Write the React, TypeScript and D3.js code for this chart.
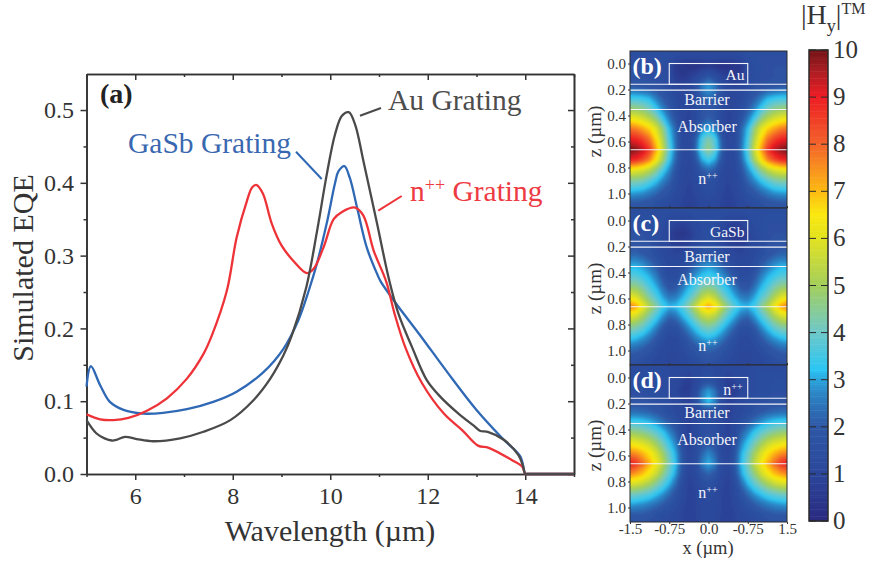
import { useEffect, useRef } from "react";
import * as d3 from "d3";

const FONT = "'Liberation Serif', 'Times New Roman', serif";

// EQE curves as [wavelength, eqe]
const auCurve: [number, number][] = [
  [5, 0.074], [5.2, 0.056], [5.37, 0.049], [5.52, 0.046], [5.62, 0.047], [5.79, 0.051], [6.03, 0.048], [6.37, 0.045],
  [6.92, 0.049], [7.4, 0.058], [7.95, 0.074], [8.42, 0.101], [8.77, 0.131], [9.04, 0.163], [9.21, 0.19], [9.51, 0.257],
  [9.73, 0.334], [9.93, 0.412], [10.1, 0.467], [10.24, 0.492], [10.38, 0.497], [10.51, 0.48], [10.68, 0.43], [10.96, 0.344],
  [11.21, 0.266], [11.4, 0.22], [11.68, 0.174], [11.98, 0.129], [12.26, 0.106], [12.63, 0.083], [12.95, 0.066], [13.08, 0.059],
  [13.23, 0.058], [13.56, 0.047], [13.86, 0.026], [13.95, 0.012], [14, 0], [14.03, 0], [14.5, 0], [15, 0],
];
const gasbCurve: [number, number][] = [
  [5, 0.12], [5.09, 0.148], [5.28, 0.122], [5.48, 0.099], [5.76, 0.088], [6.16, 0.083], [6.57, 0.084], [7.06, 0.089],
  [7.6, 0.099], [8.08, 0.113], [8.63, 0.14], [9.04, 0.172], [9.35, 0.212], [9.55, 0.25], [9.73, 0.29], [9.93, 0.345],
  [10.1, 0.4], [10.17, 0.416], [10.29, 0.423], [10.4, 0.407], [10.55, 0.366], [10.75, 0.311], [10.96, 0.275], [11.03, 0.265],
  [11.33, 0.236], [11.85, 0.19], [12.4, 0.14], [13, 0.088], [13.56, 0.047], [13.9, 0.024], [14, 0], [14.03, 0], [14.5, 0], [15, 0],
];
const npCurve: [number, number][] = [
  [5, 0.082], [5.28, 0.075], [5.55, 0.074], [5.86, 0.077], [6.24, 0.087], [6.65, 0.104], [7.06, 0.131], [7.4, 0.165],
  [7.57, 0.19], [7.88, 0.252], [8.08, 0.325], [8.29, 0.375], [8.4, 0.394], [8.49, 0.397], [8.62, 0.385], [8.8, 0.344],
  [9, 0.314], [9.24, 0.293], [9.52, 0.276], [9.66, 0.282], [9.86, 0.311], [10.07, 0.35], [10.24, 0.36], [10.51, 0.366],
  [10.68, 0.355], [10.89, 0.307], [11.15, 0.264], [11.32, 0.22], [11.54, 0.174], [11.88, 0.125], [12.33, 0.083], [12.71, 0.06],
  [13.03, 0.039], [13.25, 0.036], [13.73, 0.019], [13.94, 0.01], [14, 0], [14.03, 0], [14.5, 0], [15, 0],
];

const xMajor = [6, 8, 10, 12, 14];
const xMinor = [5, 7, 9, 11, 13, 15];
const yMajor = [0, 0.1, 0.2, 0.3, 0.4, 0.5];
const yMinor = [0.05, 0.15, 0.25, 0.35, 0.45];

// field maps: rows are z depths, columns run from x=-1.5 to x=0, the rest is mirrored
const zRows = [-0.14, -0.06, 0.02, 0.1, 0.18, 0.26, 0.34, 0.42, 0.5, 0.58, 0.66, 0.74, 0.82, 0.9, 0.98, 1.06, 1.14];
const xCols = [-1.5, -1.375, -1.25, -1.125, -1, -0.875, -0.75, -0.625, -0.5, -0.375, -0.25, -0.125, 0];

const fieldB = [
  [1.4, 1.4, 1.4, 1.4, 1.4, 1.4, 1.3, 1.2, 1.2, 1.2, 1.2, 1.2, 1.2],
  [1.5, 1.5, 1.5, 1.5, 1.5, 1.5, 1.4, 1.3, 1.2, 1.2, 1.2, 1.2, 1.2],
  [1.6, 1.6, 1.6, 1.5, 1.5, 1.4, 1.2, 0.5, 0.4, 0.3, 0.3, 0.4, 0.5],
  [1.6, 1.6, 1.6, 1.5, 1.5, 1.4, 1.2, 0.7, 0.5, 0.7, 1.0, 1.5, 1.9],
  [2.1, 2.0, 1.9, 1.8, 1.7, 1.6, 1.3, 1.0, 0.9, 1.0, 1.7, 2.6, 3.0],
  [3.3, 3.3, 3.2, 3.0, 2.5, 2.0, 1.6, 1.2, 0.9, 1.0, 1.5, 2.1, 2.4],
  [4.7, 4.6, 4.4, 4.0, 3.3, 2.6, 2.0, 1.4, 1.0, 0.9, 1.3, 1.8, 2.0],
  [6.2, 6.0, 5.7, 5.2, 4.5, 3.4, 2.5, 1.7, 1.0, 0.8, 1.2, 1.8, 2.1],
  [7.8, 7.6, 7.2, 6.7, 5.9, 4.7, 3.2, 2.2, 1.2, 0.9, 1.5, 2.6, 3.0],
  [9.0, 8.8, 8.4, 7.8, 6.6, 5.2, 3.5, 2.3, 1.2, 1.0, 2.0, 3.6, 4.3],
  [10, 9.8, 9.4, 8.6, 7.2, 5.6, 3.8, 2.4, 1.3, 1.1, 2.2, 3.9, 4.7],
  [9.0, 8.8, 8.3, 7.6, 6.4, 5.0, 3.4, 2.2, 1.2, 1.0, 1.8, 3.0, 3.5],
  [6.2, 6.0, 5.8, 5.3, 4.6, 3.6, 2.7, 1.8, 1.1, 0.9, 1.3, 2.0, 2.3],
  [4.4, 4.4, 4.2, 3.8, 3.3, 2.7, 2.2, 1.5, 1.0, 0.9, 1.1, 1.5, 1.7],
  [3.2, 3.1, 3.0, 2.7, 2.4, 2.0, 1.7, 1.3, 1.0, 0.8, 1.0, 1.3, 1.4],
  [2.1, 2.1, 2.0, 1.9, 1.7, 1.5, 1.3, 1.1, 0.9, 0.8, 0.9, 1.1, 1.2],
  [1.6, 1.6, 1.5, 1.5, 1.3, 1.2, 1.1, 1.0, 0.8, 0.7, 0.8, 1.0, 1.1],
];
const fieldC = [
  [1.4, 1.4, 1.4, 1.4, 1.4, 1.4, 1.3, 1.3, 1.3, 1.3, 1.3, 1.3, 1.3],
  [1.4, 1.4, 1.4, 1.4, 1.4, 1.4, 1.3, 1.3, 1.3, 1.3, 1.4, 1.4, 1.4],
  [1.5, 1.5, 1.5, 1.5, 1.4, 1.3, 1.1, 0.9, 0.8, 0.9, 1.1, 1.3, 1.4],
  [1.6, 1.6, 1.6, 1.5, 1.4, 1.2, 0.8, 0.5, 0.4, 0.6, 1.0, 1.3, 1.4],
  [1.8, 1.8, 1.7, 1.6, 1.3, 1.1, 0.9, 0.7, 0.7, 0.8, 1.1, 1.4, 1.5],
  [2.2, 2.2, 2.0, 1.8, 1.5, 1.2, 1.0, 0.9, 1.0, 1.2, 1.5, 1.8, 1.9],
  [3.0, 3.0, 2.8, 2.4, 2.0, 1.5, 1.1, 1.1, 1.3, 1.7, 2.2, 2.6, 2.8],
  [3.7, 3.6, 3.3, 3.0, 2.5, 1.8, 1.3, 1.3, 1.8, 2.3, 2.8, 3.2, 3.4],
  [4.6, 4.5, 4.1, 3.5, 3.0, 2.3, 1.7, 1.8, 2.4, 3.0, 3.5, 4.1, 4.3],
  [6.0, 5.7, 5.0, 4.2, 3.6, 2.9, 2.4, 2.5, 3.0, 3.6, 4.3, 5.2, 5.6],
  [7.7, 7.2, 6.2, 5.2, 4.4, 3.5, 3.1, 3.2, 3.7, 4.5, 5.5, 6.6, 7.3],
  [5.9, 5.6, 5.0, 4.2, 3.5, 2.8, 2.2, 2.4, 3.0, 3.6, 4.4, 5.2, 5.5],
  [4.5, 4.3, 3.9, 3.3, 2.7, 2.0, 1.5, 1.6, 2.2, 2.8, 3.4, 4.0, 4.3],
  [3.4, 3.2, 2.9, 2.5, 2.0, 1.5, 1.2, 1.2, 1.6, 2.1, 2.6, 3.0, 3.2],
  [2.4, 2.3, 2.1, 1.8, 1.5, 1.2, 1.0, 1.1, 1.3, 1.6, 1.9, 2.2, 2.3],
  [1.8, 1.7, 1.6, 1.4, 1.2, 1.1, 0.9, 0.9, 1.1, 1.3, 1.5, 1.7, 1.8],
  [1.4, 1.4, 1.3, 1.2, 1.1, 1.0, 0.9, 0.9, 1.0, 1.1, 1.2, 1.3, 1.4],
];
const fieldD = [
  [1.2, 1.2, 1.2, 1.2, 1.2, 1.2, 1.2, 1.1, 1.1, 1.1, 1.1, 1.2, 1.2],
  [1.3, 1.3, 1.3, 1.3, 1.3, 1.3, 1.2, 1.1, 1.1, 1.0, 1.1, 1.2, 1.3],
  [1.4, 1.4, 1.4, 1.4, 1.3, 1.3, 1.2, 1.1, 0.9, 0.7, 1.0, 1.4, 1.6],
  [1.5, 1.5, 1.5, 1.4, 1.4, 1.3, 1.2, 1.0, 0.7, 0.7, 1.3, 2.4, 2.9],
  [1.7, 1.7, 1.7, 1.6, 1.5, 1.4, 1.3, 1.1, 0.9, 0.8, 1.5, 2.7, 3.3],
  [2.3, 2.3, 2.2, 2.1, 1.9, 1.7, 1.4, 1.2, 1.0, 0.8, 1.2, 1.6, 1.8],
  [3.4, 3.4, 3.3, 3.1, 2.8, 2.4, 2.0, 1.6, 1.1, 0.8, 1.1, 1.4, 1.5],
  [4.8, 4.7, 4.5, 4.2, 3.8, 3.3, 2.7, 2.1, 1.2, 0.8, 1.1, 1.5, 1.6],
  [6.2, 6.0, 5.8, 5.4, 4.8, 4.1, 3.3, 2.6, 1.5, 0.8, 1.2, 1.7, 1.9],
  [7.6, 7.4, 7.0, 6.5, 5.8, 4.9, 3.9, 3.0, 1.8, 0.9, 1.3, 2.2, 2.7],
  [9.0, 8.6, 7.9, 7.1, 6.3, 5.4, 4.2, 3.2, 1.9, 1.0, 1.4, 2.6, 3.1],
  [7.6, 7.3, 6.9, 6.3, 5.6, 4.7, 3.8, 2.9, 1.7, 0.9, 1.2, 1.9, 2.2],
  [5.8, 5.7, 5.4, 5.0, 4.4, 3.8, 3.1, 2.3, 1.4, 0.8, 1.0, 1.4, 1.6],
  [4.1, 4.0, 3.8, 3.6, 3.2, 2.8, 2.3, 1.7, 1.2, 0.8, 0.9, 1.2, 1.3],
  [2.9, 2.8, 2.7, 2.5, 2.3, 2.0, 1.7, 1.4, 1.0, 0.8, 0.9, 1.1, 1.2],
  [1.9, 1.9, 1.9, 1.8, 1.6, 1.4, 1.3, 1.1, 0.9, 0.8, 0.9, 1.0, 1.1],
  [1.5, 1.5, 1.5, 1.4, 1.3, 1.2, 1.1, 1.0, 0.9, 0.8, 0.8, 1.0, 1.0],
];

const layerLines = [0.16, 0.205, 0.354, 0.664];
const zTicks = [0, 0.2, 0.4, 0.6, 0.8, 1];
const xFieldTicks = [-1.5, -0.75, 0, 0.75, 1.5];
const xFieldLabels = ["-1.5", "-0.75", "0.0", "-0.75", "1.5"];
const barTicks = [0, 1, 2, 3, 4, 5, 6, 7, 8, 9, 10];
const colorStops = [0, 1, 2, 2.7, 3, 3.2, 4, 5, 5.5, 6, 6.5, 7, 8, 9, 9.5, 10];
const colorValues = [
  "#2a2a80", "#2b479b", "#2e58a6", "#2c86c6", "#2ba6dd", "#2bc6f4", "#6fc8c8", "#a4cf5a",
  "#c5d93e", "#e3e31f", "#fbe80f", "#fdb913", "#f3622a", "#ed1c24", "#b01e24", "#701215",
];

const colorScale = d3.scaleLinear<string>().domain(colorStops).range(colorValues).clamp(true);

export default function App() {
  const svgRef = useRef<SVGSVGElement | null>(null);

  useEffect(() => {
    if (!svgRef.current) return;
    const svg = d3.select(svgRef.current);
    svg.selectAll("*").remove();
    svg.attr("font-family", FONT);

    const ink = "#333333";

    const styleAxis = (g: any, size: number) => {
      g.attr("font-family", FONT).attr("font-size", size);
      g.selectAll("path.domain").attr("stroke", ink).attr("stroke-width", 1.6);
      g.selectAll("line").attr("stroke", ink).attr("stroke-width", 1.5);
      g.selectAll("text").attr("fill", ink);
    };

    // main plot
    const x = d3.scaleLinear().domain([5, 15]).range([86.5, 574]);
    const y = d3.scaleLinear().domain([0, 0.5495]).range([474, 74]);
    const noLabel = () => "";

    const frame: [string, any][] = [
      ["translate(0,474)", d3.axisBottom(x).tickValues(xMinor).tickSize(3).tickSizeOuter(0).tickFormat(noLabel)],
      ["translate(0,474)", d3.axisBottom(x).tickValues(xMajor).tickSize(6).tickSizeOuter(0).tickPadding(7)],
      ["translate(86.5,0)", d3.axisLeft(y).tickValues(yMinor).tickSize(3).tickSizeOuter(0).tickFormat(noLabel)],
      ["translate(86.5,0)", d3.axisLeft(y).tickValues(yMajor).tickSize(6).tickSizeOuter(0).tickPadding(6.5).tickFormat(d3.format(".1f"))],
      // mirrored frame, ticks pointing inward and no labels
      ["translate(0,74)", d3.axisTop(x).tickValues(xMinor).tickSize(-3).tickSizeOuter(0).tickFormat(noLabel)],
      ["translate(0,74)", d3.axisTop(x).tickValues(xMajor).tickSize(-6).tickSizeOuter(0).tickFormat(noLabel)],
      ["translate(574,0)", d3.axisRight(y).tickValues(yMinor).tickSize(-3).tickSizeOuter(0).tickFormat(noLabel)],
      ["translate(574,0)", d3.axisRight(y).tickValues(yMajor).tickSize(-6).tickSizeOuter(0).tickFormat(noLabel)],
    ];
    frame.forEach(([transform, axis]) => {
      styleAxis(svg.append("g").attr("transform", transform).call(axis), 24);
    });

    const line = d3.line<[number, number]>().x((d) => x(d[0])).y((d) => y(d[1])).curve(d3.curveCatmullRom.alpha(0.5));
    const curves: [[number, number][], string][] = [
      [gasbCurve, "#2f68b4"],
      [npCurve, "#ee3338"],
      [auCurve, "#4a4a4a"],
    ];
    curves.forEach(([data, color]) => {
      svg.append("path").attr("d", line(data)).attr("fill", "none").attr("stroke", color).attr("stroke-width", 2.3);
    });

    svg.append("text").attr("x", 330).attr("y", 541).attr("text-anchor", "middle")
      .attr("font-size", 30).attr("fill", ink).text("Wavelength (µm)");
    svg.append("text").attr("transform", "translate(33,268) rotate(-90)").attr("text-anchor", "middle")
      .attr("font-size", 30).attr("fill", ink).text("Simulated EQE");
    svg.append("text").attr("x", 100).attr("y", 103).attr("font-size", 28).attr("font-weight", "bold")
      .attr("fill", "#222").text("(a)");

    // curve labels with their leader lines
    svg.append("text").attr("x", 388).attr("y", 110).attr("font-size", 29.5).attr("fill", "#4d4d4d").text("Au Grating");
    svg.append("text").attr("x", 128).attr("y", 153).attr("font-size", 29.5).attr("fill", "#3a68b0").text("GaSb Grating");
    const npLabel = svg.append("text").attr("x", 410).attr("y", 201).attr("font-size", 29.5).attr("fill", "#ee3a43");
    npLabel.append("tspan").text("n");
    npLabel.append("tspan").attr("font-size", 18).attr("dy", -10).text("++");
    npLabel.append("tspan").attr("dy", 10).text(" Grating");
    const leaders: [number, number, number, number, string][] = [
      [360, 115.7, 381, 108, "#4a4a4a"],
      [296, 151.7, 321.7, 179, "#2f68b4"],
      [378.3, 210.7, 401.7, 196, "#ee3338"],
    ];
    leaders.forEach(([x1, y1, x2, y2, color]) => {
      svg.append("line").attr("x1", x1).attr("y1", y1).attr("x2", x2).attr("y2", y2)
        .attr("stroke", color).attr("stroke-width", 2);
    });

    // field maps
    const fx = d3.scaleLinear().domain([-1.5, 1.5]).range([630, 787]);
    const defs = svg.append("defs");
    defs.append("filter").attr("id", "soft").attr("x", "-5%").attr("y", "-5%").attr("width", "110%").attr("height", "110%")
      .append("feGaussianBlur").attr("stdDeviation", 1.3);

    const nx = xCols.length * 2 - 1;
    const ny = zRows.length;
    const xStep = xCols[1] - xCols[0];
    const zStep = zRows[1] - zRows[0];
    const thresholds = d3.range(0, 10.05, 0.1);

    // field, tag, grating name, y of z=0, panel top, z of barrier / absorber / n++ labels
    const panels: [number[][], string, string, number, number, number, number, number][] = [
      [fieldB, "(b)", "Au", 63.5, 51, 0.32, 0.527, 0.93],
      [fieldC, "(c)", "GaSb", 220.5, 208, 0.32, 0.496, 1.0],
      [fieldD, "(d)", "n", 377.5, 365, 0.31, 0.52, 0.93],
    ];

    panels.forEach(([field, tag, grating, zeroY, top, zBarrier, zAbsorber, zSub], i) => {
      const height = 157;
      const fz = d3.scaleLinear().domain([0, 1]).range([zeroY, zeroY + 130]);
      const clipId = `panel-${i}`;
      defs.append("clipPath").attr("id", clipId).append("rect")
        .attr("x", 630).attr("y", top).attr("width", 157).attr("height", height);

      const values = field.flatMap((row) => [...row, ...row.slice(0, -1).reverse()]);
      const bands = d3.contours().size([nx, ny]).thresholds(thresholds)(values);
      const project = d3.geoTransform({
        point(px, py) {
          this.stream.point(fx(xCols[0] + (px - 0.5) * xStep), fz(zRows[0] + (py - 0.5) * zStep));
        },
      });
      const path = d3.geoPath(project);

      const map = svg.append("g").attr("clip-path", `url(#${clipId})`).append("g").attr("filter", "url(#soft)");
      map.selectAll("path").data(bands).enter().append("path")
        .attr("d", (d) => path(d as any))
        .attr("fill", (d) => colorScale(d.value + 0.05));

      layerLines.forEach((z) => {
        svg.append("line").attr("x1", 630).attr("x2", 787).attr("y1", fz(z)).attr("y2", fz(z))
          .attr("stroke", "#f4f6fb").attr("stroke-width", 1.1);
      });
      svg.append("rect").attr("x", fx(-0.75)).attr("y", fz(0)).attr("width", fx(0.75) - fx(-0.75))
        .attr("height", fz(0.16) - fz(0)).attr("fill", "none").attr("stroke", "#f4f6fb").attr("stroke-width", 1.1);

      svg.append("text").attr("x", 632.5).attr("y", top + 23).attr("font-size", 24).attr("font-weight", "bold")
        .attr("fill", "#fff").text(tag);

      const addWhite = (tx: number, tz: number, label: string) =>
        svg.append("text").attr("x", tx).attr("y", fz(tz)).attr("text-anchor", "middle")
          .attr("font-size", 16).attr("fill", "#f2f4fa").text(label);
      addWhite(707, zBarrier, "Barrier");
      addWhite(707, zAbsorber, "Absorber");
      const n = addWhite(708, zSub, "n");
      n.append("tspan").attr("font-size", 10).attr("dy", -5).text("++");
      if (grating === "n") {
        const g = addWhite(733, 0.135, "n");
        g.append("tspan").attr("font-size", 10).attr("dy", -5).text("++");
      } else {
        svg.append("text").attr("x", 744.5).attr("y", fz(0.125)).attr("text-anchor", "end")
          .attr("font-size", 15.5).attr("fill", "#f2f4fa").text(grating);
      }

      svg.append("rect").attr("x", 630).attr("y", top).attr("width", 157).attr("height", height)
        .attr("fill", "none").attr("stroke", "#2a2a2a").attr("stroke-width", 1);

      const zAxis = svg.append("g").attr("transform", "translate(630,0)")
        .call(d3.axisLeft(fz).tickValues(zTicks).tickSize(2).tickSizeOuter(0).tickPadding(2).tickFormat(d3.format(".1f") as any));
      styleAxis(zAxis, 15);
      zAxis.select("path.domain").remove();
      zAxis.selectAll("line").attr("stroke-width", 1);

      svg.append("text").attr("transform", `translate(601,${zeroY + 68}) rotate(-90)`).attr("text-anchor", "middle")
        .attr("font-size", 19).attr("fill", ink).text("z (µm)");

      // little ticks on the shared borders
      const xt = svg.append("g").attr("transform", `translate(0,${top + height})`)
        .call(d3.axisBottom(fx).tickValues(xFieldTicks).tickSize(i === 2 ? 2 : -2).tickSizeOuter(0)
          .tickPadding(-1).tickFormat((_, k) => (i === 2 ? xFieldLabels[k] : "")));
      styleAxis(xt, 15);
      xt.select("path.domain").remove();
      xt.selectAll("line").attr("stroke-width", 1);
    });

    svg.append("text").attr("x", 708).attr("y", 553.5).attr("text-anchor", "middle")
      .attr("font-size", 18.5).attr("fill", ink).text("x (µm)");

    // colour bar
    const by = d3.scaleLinear().domain([0, 10]).range([521, 50]);
    const steps = d3.range(0, 10, 0.05);
    svg.append("g").selectAll("rect").data(steps).enter().append("rect")
      .attr("x", 809).attr("width", 19)
      .attr("y", (d) => by(d + 0.05))
      .attr("height", (d) => by(d) - by(d + 0.05) + 0.5)
      .attr("fill", (d) => colorScale(d));
    svg.append("rect").attr("x", 809).attr("y", 50).attr("width", 19).attr("height", 471)
      .attr("fill", "none").attr("stroke", "#2a2a2a").attr("stroke-width", 1.5);
    svg.append("g").selectAll("line").data(barTicks).enter().append("line")
      .attr("x1", 809).attr("x2", 828).attr("y1", (d) => by(d)).attr("y2", (d) => by(d))
      .attr("stroke", "#2a2a2a").attr("stroke-width", 1).attr("stroke-dasharray", "7 5 7");
    svg.append("g").selectAll("text").data(barTicks).enter().append("text")
      .attr("x", 833).attr("y", (d) => by(d) + 8).attr("font-size", 25).attr("fill", ink)
      .text((d) => d);

    const title = svg.append("text").attr("x", 801).attr("y", 24).attr("font-size", 28).attr("fill", ink);
    title.append("tspan").text("|H");
    title.append("tspan").attr("font-size", 18).attr("dy", 8).text("y");
    title.append("tspan").attr("dy", -8).text("|");
    title.append("tspan").attr("font-size", 16).attr("dy", -10).text("TM");
  }, []);

  return <svg ref={svgRef} width={870} height={563} style={{ position: "absolute", left: 0, top: 0 }}></svg>;
}
